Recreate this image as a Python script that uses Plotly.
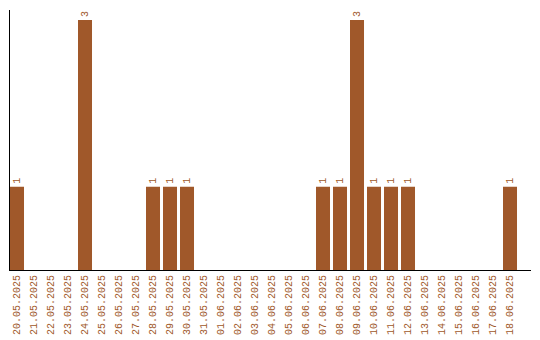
import plotly.graph_objects as go

dates = ["20.05.2025","21.05.2025","22.05.2025","23.05.2025","24.05.2025","25.05.2025",
         "26.05.2025","27.05.2025","28.05.2025","29.05.2025","30.05.2025","31.05.2025",
         "01.06.2025","02.06.2025","03.06.2025","04.06.2025","05.06.2025","06.06.2025",
         "07.06.2025","08.06.2025","09.06.2025","10.06.2025","11.06.2025","12.06.2025",
         "13.06.2025","14.06.2025","15.06.2025","16.06.2025","17.06.2025","18.06.2025"]
counts = [1,0,0,0,3,0,0,0,1,1,1,0,0,0,0,0,0,0,1,1,3,1,1,1,0,0,0,0,0,1]

color = "#A0582A"
labels = [str(v) if v > 0 else "" for v in counts]

fig = go.Figure(go.Bar(
    x=list(range(len(dates))), y=counts, marker_color=color, marker_line_width=0,
    text=labels, textposition="outside", textangle=-90, cliponaxis=False,
    textfont=dict(family="Liberation Mono", size=10, color=color),
))
fig.update_layout(
    width=540, height=340, margin=dict(l=10, r=9, t=10, b=70),
    plot_bgcolor="white", paper_bgcolor="white", bargap=0.176, showlegend=False,
)
fig.update_xaxes(range=[-0.412, 30.235], tickmode="array", tickvals=list(range(len(dates))),
                 ticktext=dates, tickangle=-90, showgrid=False, zeroline=False,
                 showline=True, linecolor="black", linewidth=1, ticks="", automargin=False,
                 tickfont=dict(family="Liberation Mono", size=10, color=color))
fig.update_yaxes(range=[0, 3.12], showgrid=False, zeroline=False, showticklabels=False,
                 showline=True, linecolor="black", linewidth=1, ticks="", automargin=False)
fig.write_html("out.html")
